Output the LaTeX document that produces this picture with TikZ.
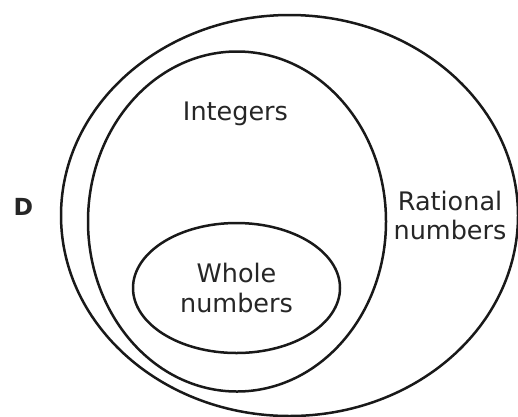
\documentclass[tikz,border=0pt]{standalone}
\usepackage{fontspec}
\setmainfont{DejaVu Sans}
\usetikzlibrary{shapes.geometric}
\begin{document}
\begin{tikzpicture}[x=1pt,y=-1pt,
  setshape/.style={ellipse,draw=black!90,line width=2.5pt,inner sep=0pt},
  lbl/.style={inner sep=0pt,align=center,text=black!85,font=\fontsize{25.5}{29.5}\selectfont}]
\useasboundingbox (0,0) rectangle (518,416);
\node[setshape,minimum width=457pt,minimum height=401pt] (rational) at (289.5,215.5) {};
\node[setshape,minimum width=298pt,minimum height=340pt] (integers) at (237,221.5) {};
\node[setshape,minimum width=207pt,minimum height=130pt] (whole) at (236.5,288) {};
\node[lbl,anchor=base] (tint) at (235.5,120) {Integers};
\node[lbl] (twhole) at (236.5,288.2) {Whole\\numbers};
\node[lbl] (trat) at (450,215.7) {Rational\\numbers};
\node[lbl,anchor=base,font=\fontsize{23.5}{28}\selectfont\bfseries] (tD) at (23.5,215) {D};
\end{tikzpicture}
\end{document}
